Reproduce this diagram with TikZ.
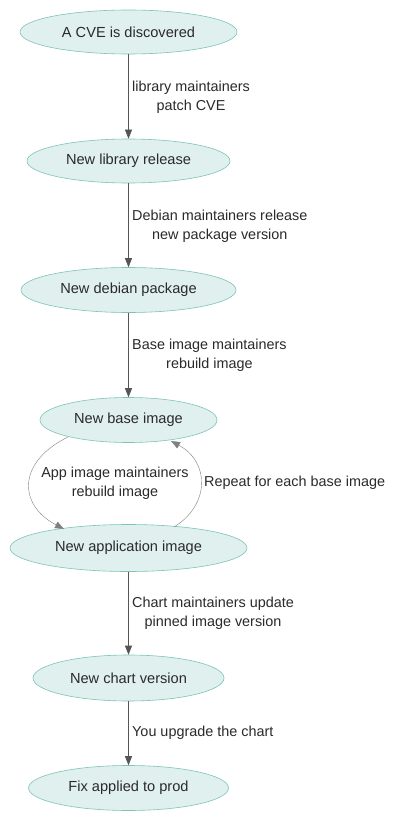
\documentclass[tikz,border=0pt]{standalone}
\usepackage{fontspec}
\setmainfont{Liberation Sans}
\usetikzlibrary{arrows.meta,shapes.geometric}
\definecolor{nodefill}{HTML}{E0F0EE}
\definecolor{nodeline}{HTML}{7CC4BA}
\definecolor{edgecol}{HTML}{555555}
\definecolor{txt}{HTML}{2A2A2A}
\begin{document}
\begin{tikzpicture}[x=1pt,y=-1pt,
  ev/.style={ellipse,draw=nodeline,fill=nodefill,line width=0.6pt,inner sep=0pt,font=\fontsize{14.6}{17}\selectfont,text=txt},
  flow/.style={draw=edgecol,line width=0.6pt,-{Triangle[length=9pt,width=7pt]}},
  loopedge/.style={draw=gray,line width=0.4pt,-{Triangle[length=9pt,width=7pt]},shorten >=0pt},
  lab/.style={font=\fontsize{14.4}{19}\selectfont,align=center,text=txt,inner sep=0pt}]
\useasboundingbox (0,0) rectangle (400,824);
\fill[white] (0,0) rectangle (400,824);
\node[ev,minimum width=217pt,minimum height=44pt] (n1) at (128.5,32) {A CVE is discovered};
\node[ev,minimum width=203pt,minimum height=44pt] (n2) at (128.5,161) {New library release};
\node[ev,minimum width=215pt,minimum height=45pt] (n3) at (128.5,290) {New debian package};
\node[ev,minimum width=177pt,minimum height=45pt] (n4) at (128.5,420) {New base image};
\node[ev,minimum width=237pt,minimum height=47pt] (n5) at (128.5,548) {New application image};
\node[ev,minimum width=191pt,minimum height=46pt] (n6) at (128.5,678) {New chart version};
\node[ev,minimum width=200pt,minimum height=45pt] (n7) at (128.5,788) {Fix applied to prod};
\path[flow] (n1) -- (n2);
\path[flow] (n2) -- (n3);
\path[flow] (n3) -- (n4);
\path[flow] (n5) -- (n6);
\path[flow] (n6) -- (n7);
\node[lab,anchor=west] (l1) at (132,97) {library maintainers\\patch CVE};
\node[lab,anchor=west] (l2) at (132,226) {Debian maintainers release\\new package version};
\node[lab,anchor=west] (l3) at (132,355) {Base image maintainers\\rebuild image};
\node[lab,anchor=west] (l5) at (132,613) {Chart maintainers update\\pinned image version};
\node[lab,anchor=west] (l6) at (132,733) {You upgrade the chart};
\coordinate (a1) at (68,437);
\coordinate (a2) at (64,529);
\coordinate (b1) at (174,527);
\coordinate (b2) at (171,441);
\path[loopedge] (a1) .. controls (17,462) and (18,505) .. (a2);
\path[loopedge] (b1) .. controls (210,505) and (210,462) .. (b2);
\node[lab] (l4) at (115,483) {App image maintainers\\rebuild image};
\node[lab,anchor=west] (l4b) at (204,483) {Repeat for each base image};
\end{tikzpicture}
\end{document}
